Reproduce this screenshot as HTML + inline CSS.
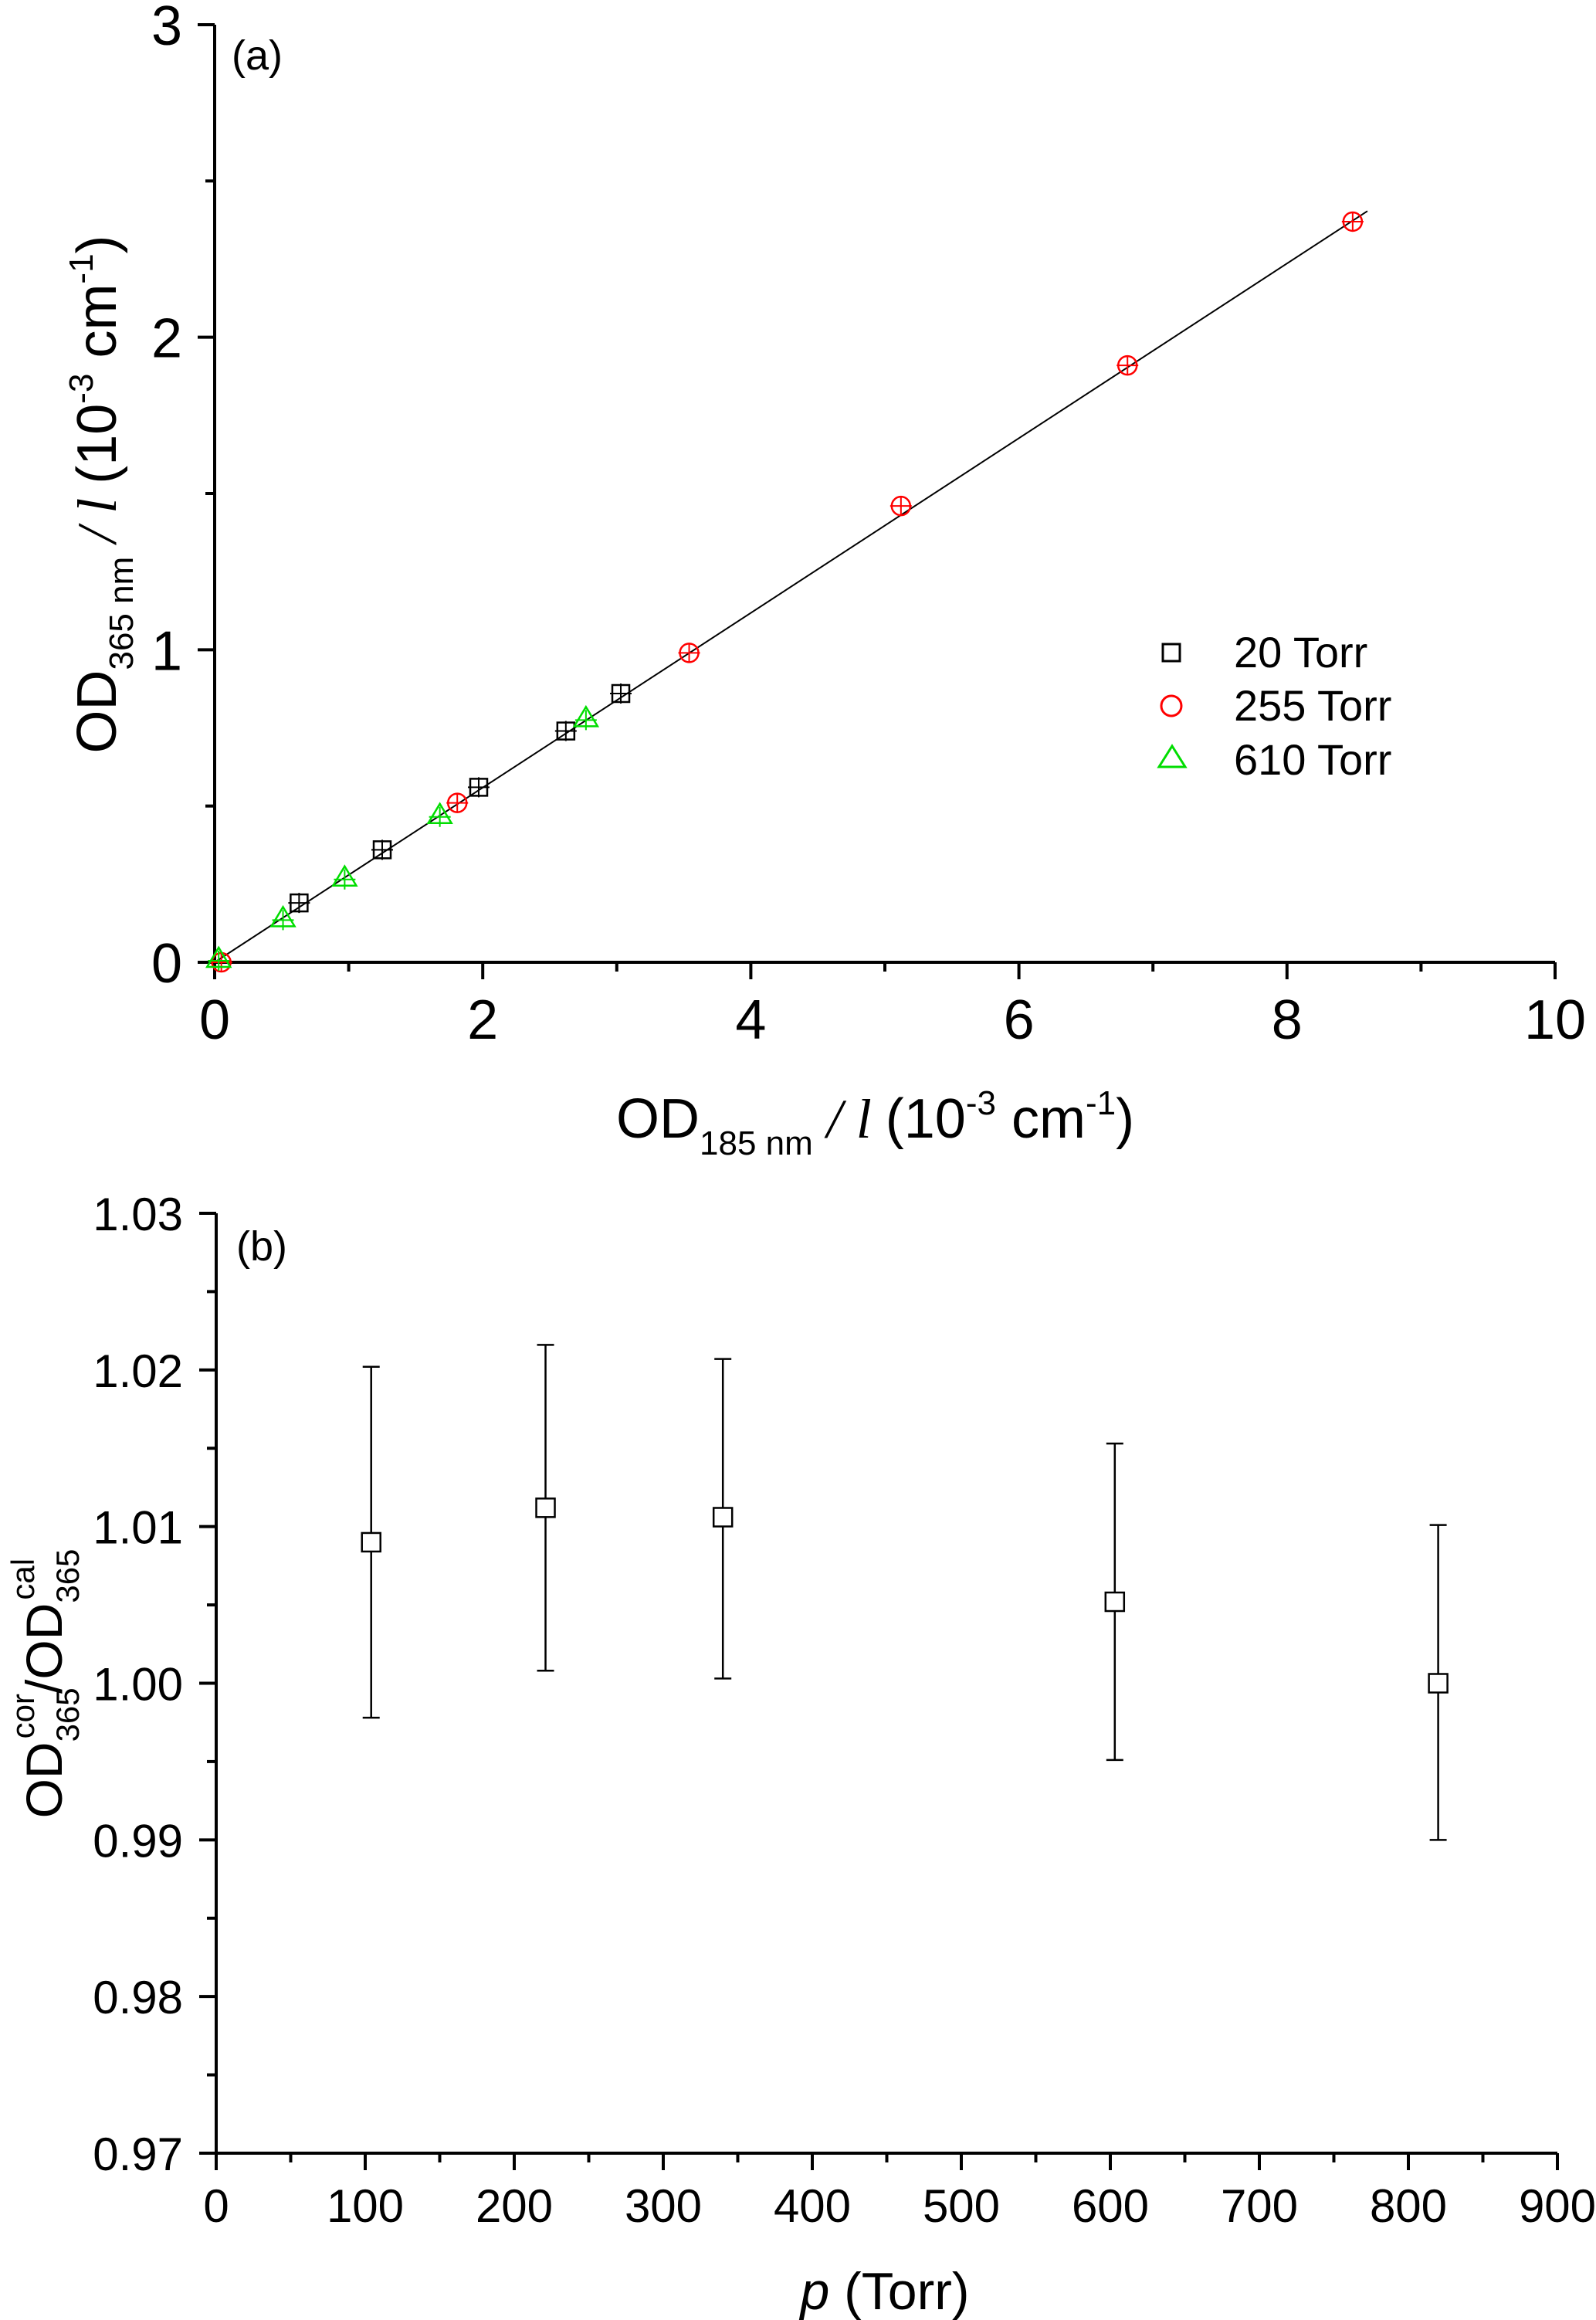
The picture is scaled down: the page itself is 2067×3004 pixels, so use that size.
<!DOCTYPE html>
<html><head><meta charset="utf-8"><style>
html,body{margin:0;padding:0;background:#fff}
svg{display:block;font-family:"Liberation Sans",Arial,sans-serif}
</style></head><body>
<svg id="fig" width="2067" height="3004" viewBox="0 0 2067 3004" xmlns="http://www.w3.org/2000/svg">
<g id="gtop"></g>
<g id="gbot"></g>
<text x="300" y="90" font-size="54">(a)</text>
<text x="306" y="1632" font-size="54">(b)</text>
<text x="798" y="1473" font-size="72">OD<tspan font-size="44" dy="22">185 nm</tspan><tspan dy="-22" font-family="Liberation Serif" font-style="italic"> / l </tspan> (10<tspan font-size="44" dy="-30">-3</tspan><tspan dy="30"> cm</tspan><tspan font-size="44" dy="-30">-1</tspan><tspan dy="30">)</tspan></text>
<text transform="translate(150,640) rotate(-90)" text-anchor="middle" font-size="72">OD<tspan font-size="44" dy="22">365 nm</tspan><tspan dy="-22" font-family="Liberation Serif" font-style="italic"> / l </tspan> (10<tspan font-size="44" dy="-30">-3</tspan><tspan dy="30"> cm</tspan><tspan font-size="44" dy="-30">-1</tspan><tspan dy="30">)</tspan></text>
<text transform="translate(80,2180) rotate(-90)" text-anchor="middle" font-size="66">OD<tspan font-size="42" dy="22">365</tspan><tspan font-size="42" dx="-66" dy="-58">cor</tspan><tspan dy="36">/OD</tspan><tspan font-size="42" dy="22">365</tspan><tspan font-size="42" dx="-66" dy="-58">cal</tspan></text>
<text x="1146" y="2990" text-anchor="middle" font-size="68"><tspan font-style="italic">p</tspan> (Torr)</text>
<g>
<rect x="1506" y="834" width="22" height="22" fill="none" stroke="#000" stroke-width="3"/>
<text x="1598" y="864" font-size="56">20 Torr</text>
<circle cx="1517" cy="914" r="13" fill="none" stroke="#f00" stroke-width="3"/>
<text x="1598" y="933" font-size="56">255 Torr</text>
<polygon points="1518,966 1535,993 1501,993" fill="none" stroke="#0d0" stroke-width="3"/>
<text x="1598" y="1003" font-size="56">610 Torr</text>
</g>
</svg>
<script>
// Panel (a) data
const sqX = [0.63, 1.25, 1.97, 2.62, 3.03];
const sqY = [0.19, 0.36, 0.56, 0.74, 0.86];
const ciX = [0.05, 1.81, 3.54, 5.12, 6.81, 8.49];
const ciY = [0.0, 0.51, 0.99, 1.46, 1.91, 2.37];
const trX = [0.03, 0.51, 0.97, 1.68, 2.77];
const trY = [0.01, 0.14, 0.27, 0.47, 0.78];
const fitX = [0, 8.6];
const fitSlope = [0.2795];
const aXTicks = [0, 2, 4, 6, 8, 10];
const aYTicks = [0, 1, 2, 3];
// Panel (b) data
const pVals = [104, 221, 340, 603, 820];
const ratio = [1.0090, 1.0112, 1.0106, 1.0052, 1.0000];
const errHi = [1.0202, 1.0216, 1.0207, 1.0153, 1.0101];
const errLo = [0.9978, 1.0008, 1.0003, 0.9951, 0.9900];
const bXTicks = [0, 100, 200, 300, 400, 500, 600, 700, 800, 900];
const bYTicks = ["0.97", "0.98", "0.99", "1.00", "1.01", "1.02", "1.03"];

const NS = "http://www.w3.org/2000/svg";
function mk(parent, tag, attrs) {
  const e = document.createElementNS(NS, tag);
  for (const k in attrs) e.setAttribute(k, attrs[k]);
  parent.appendChild(e); return e;
}
const gTop = document.getElementById('gtop');
const gBot = document.getElementById('gbot');
const ax = v => 278 + (v / 10) * 1736;
const ay = v => 1246 - (v / 3) * 1214;
const bx = v => 280 + (v / 900) * 1737;
const by = v => 2788 - ((v - 0.97) / 0.06) * 1217;

// axes a
let l = mk(gTop, 'path', {d: `M${ax(0)},${ay(3)} L${ax(0)},${ay(0)} L${ax(10)},${ay(0)}`, fill: 'none', stroke: '#000', 'stroke-width': 4});


for (let v = 0; v <= 10; v++) {
  const t = mk(gTop, 'line', {x1: ax(v), x2: ax(v), y1: ay(0), y2: ay(0) + (v % 2 ? 12 : 22), stroke: '#000', 'stroke-width': 4});
  
  
}
aXTicks.forEach(v => {
  const t = mk(gTop, 'text', {x: ax(v), y: 1345, 'text-anchor': 'middle', 'font-size': 72});
  t.textContent = v;
  
  
});
for (let v = 0; v <= 3; v += 0.5) {
  const t = mk(gTop, 'line', {x1: ax(0), x2: ax(0) - (v % 1 ? 12 : 22), y1: ay(v), y2: ay(v), stroke: '#000', 'stroke-width': 4});
  
  
}
aYTicks.forEach(v => {
  const t = mk(gTop, 'text', {x: 236, y: ay(v) + 26, 'text-anchor': 'end', 'font-size': 72});
  t.textContent = v;
  
  
});
// fit line
const fit = mk(gTop, 'line', {x1: ax(fitX[0]), y1: ay(fitX[0] * fitSlope[0]), x2: ax(fitX[1]), y2: ay(fitX[1] * fitSlope[0]), stroke: '#000', 'stroke-width': 2});


function cross(g, cx, cy, col) {
  const c = mk(g, 'path', {d: `M${cx - 14},${cy} H${cx + 14} M${cx},${cy - 13} V${cy + 13}`, stroke: col, 'stroke-width': 2, fill: 'none'});
  
  
}
sqX.forEach((x, i) => {
  const cx = ax(x), cy = ay(sqY[i]);
  const m = mk(gTop, 'rect', {x: cx - 11, y: cy - 11, width: 22, height: 22, fill: 'none', stroke: '#000', 'stroke-width': 2.5});
  
  
  cross(gTop, cx, cy, '#000');
});
ciX.forEach((x, i) => {
  const cx = ax(x), cy = ay(ciY[i]);
  const m = mk(gTop, 'circle', {cx: cx, cy: cy, r: 12, fill: 'none', stroke: '#f00', 'stroke-width': 2.5});
  
  
  cross(gTop, cx, cy, '#f00');
});
trX.forEach((x, i) => {
  const cx = ax(x), cy = ay(trY[i]);
  const m = mk(gTop, 'polygon', {points: `${cx},${cy - 15} ${cx + 15},${cy + 10} ${cx - 15},${cy + 10}`, fill: 'none', stroke: '#0d0', 'stroke-width': 2.5});
  
  
  cross(gTop, cx, cy + 2, '#0d0');
});

// axes b
l = mk(gBot, 'path', {d: `M${bx(0)},${by(1.03)} L${bx(0)},${by(0.97)} L${bx(900)},${by(0.97)}`, fill: 'none', stroke: '#000', 'stroke-width': 4});


for (let v = 0; v <= 900; v += 50) {
  const t = mk(gBot, 'line', {x1: bx(v), x2: bx(v), y1: by(0.97), y2: by(0.97) + (v % 100 ? 12 : 22), stroke: '#000', 'stroke-width': 4});
  
  
}
bXTicks.forEach(v => {
  const t = mk(gBot, 'text', {x: bx(v), y: 2877, 'text-anchor': 'middle', 'font-size': 60});
  t.textContent = v;
  
  
});
for (let k = 0; k <= 12; k++) {
  const v = 0.97 + k * 0.005;
  const t = mk(gBot, 'line', {x1: bx(0), x2: bx(0) - (k % 2 ? 12 : 22), y1: by(v), y2: by(v), stroke: '#000', 'stroke-width': 4});
  
  
}
bYTicks.forEach(s => {
  const t = mk(gBot, 'text', {x: 237, y: by(parseFloat(s)) + 22, 'text-anchor': 'end', 'font-size': 60});
  t.textContent = s;
  
  
});
pVals.forEach((p, i) => {
  const cx = bx(p);
  const e = mk(gBot, 'path', {d: `M${cx},${by(errHi[i])} V${by(errLo[i])} M${cx - 11},${by(errHi[i])} H${cx + 11} M${cx - 11},${by(errLo[i])} H${cx + 11}`, stroke: '#000', 'stroke-width': 2.5, fill: 'none'});
  
  
  const m = mk(gBot, 'rect', {x: cx - 12, y: by(ratio[i]) - 12, width: 24, height: 24, fill: '#fff', stroke: '#000', 'stroke-width': 2.5});
  
  
});
</script>
</body></html>
